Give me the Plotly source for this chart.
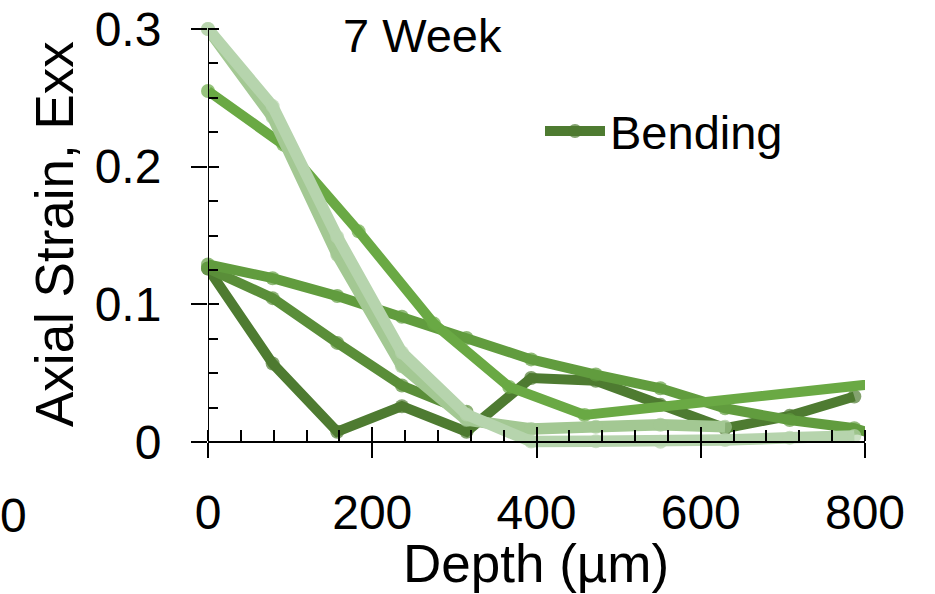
import plotly.graph_objects as go

# ---------------- data ----------------
depth_a = [0, 78.7, 157.4, 236.1, 314.8, 393.5, 472.2, 550.9, 629.6, 708.3, 787.0, 865.7]
depth_b = [0, 91.7, 183.4, 275.1, 366.8, 458.5, 917.0]

bending_1 = [0.126, 0.057, 0.0075, 0.026, 0.0075, 0.0465, 0.0445, 0.027, 0.010, 0.019, 0.033]
bending_2 = [0.126, 0.1045, 0.072, 0.041, 0.022]
bending_3 = [0.129, 0.119, 0.106, 0.091, 0.0755, 0.060, 0.049, 0.039, 0.0245, 0.016, 0.010, -0.004]
bending_4 = [0.255, 0.216, 0.153, 0.086, 0.040, 0.0196, 0.049]
bending_5 = [0.300, 0.236, 0.136, 0.055, 0.016, 0.0095, 0.011, 0.0125, 0.011]
bending_6 = [0.300, 0.244, 0.149, 0.065, 0.020, 0.0003, 0.0005, 0.0002, 0.0015, 0.003, 0.0044]

x_ticks = [0, 200, 400, 600, 800]
y_ticks = [0, 0.1, 0.2, 0.3]

# ---------------- layout geometry ----------------
W, H = 935, 594
ML, MR, MT, MB = 208, 70, 21, 144
PW, PH = W - ML - MR, H - MT - MB
Y0_PX, Y3_PX = 442, 29                       # rows of y=0 and y=0.3
PX_PER_UNIT = (Y0_PX - Y3_PX) / 0.3
Y_MIN = -((H - MB) - Y0_PX) / PX_PER_UNIT
Y_MAX = 0.3 + (Y3_PX - MT) / PX_PER_UNIT
XAX_POS = ((H - MB) - Y0_PX) / PH

def px2x(px):
    return (px - ML) / PW

def py2y(py):
    return ((H - MB) - py) / PH

FONT = "Liberation Sans, Arial, sans-serif"

series = [
    ("Bending", depth_a, bending_1, "#4e7b31", True, 10),
    ("Bending 2", depth_a, bending_2, "#5a8e39", False, 10),
    ("Bending 3", depth_a, bending_3, "#619c3e", False, 10),
    ("Bending 4", depth_b, bending_4, "#6aa944", False, 10),
    ("Bending 5", depth_a, bending_5, "#a3c893", False, 11.5),
    ("Bending 6", depth_a, bending_6, "#b6d4ad", False, 11.5),
]

fig = go.Figure()
for name, xs, ys, color, leg, lw in series:
    n = len(ys)
    xs = xs[:n]
    sizes = [14 if x <= 800 else 0 for x in xs]
    fig.add_trace(go.Scatter(
        x=xs, y=ys, name=name, mode="lines+markers",
        line=dict(color=color, width=lw),
        marker=dict(color=color, size=sizes, line=dict(width=0)),
        showlegend=leg, cliponaxis=False,
    ))

# dummy trace for overlay axes carrying the inner half of the major ticks
fig.add_trace(go.Scatter(x=[], y=[], xaxis="x2", yaxis="y2", showlegend=False))

fig.update_layout(
    width=W, height=H,
    margin=dict(l=ML, r=MR, t=MT, b=MB, autoexpand=False),
    template="none",
    paper_bgcolor="white", plot_bgcolor="white",
    font=dict(family=FONT, size=47, color="black"),
    xaxis=dict(
        range=[0, 800], anchor="free", position=XAX_POS,
        showgrid=False, zeroline=False,
        showline=True, linecolor="black", linewidth=2,
        tickmode="array", tickvals=x_ticks, ticktext=[str(v) for v in x_ticks],
        ticks="outside", ticklen=15, tickwidth=2, tickcolor="black",
        tickfont=dict(size=48, family=FONT),
        ticklabelstandoff=13, ticklabeloverflow="allow",
        minor=dict(ticks="inside", dtick=40, tick0=0, ticklen=11, tickwidth=2,
                   tickcolor="black", showgrid=False),
        automargin=False,
    ),
    yaxis=dict(
        range=[Y_MIN, Y_MAX], showgrid=False, zeroline=False, showline=False,
        tickmode="array", tickvals=y_ticks, ticktext=["0", "0.1", "0.2", "0.3"],
        ticks="outside", ticklen=16, tickwidth=2, tickcolor="black",
        tickfont=dict(size=48, family=FONT),
        ticklabelstandoff=20, ticklabeloverflow="allow",
        minor=dict(ticks="inside", dtick=0.025, tick0=0, ticklen=10, tickwidth=2,
                   tickcolor="black", showgrid=False),
        automargin=False,
    ),
    xaxis2=dict(
        range=[0, 800], overlaying="x", anchor="free", position=XAX_POS,
        showgrid=False, zeroline=False, showline=False,
        tickmode="array", tickvals=x_ticks, showticklabels=False,
        ticks="inside", ticklen=15, tickwidth=2, tickcolor="black",
        automargin=False,
    ),
    yaxis2=dict(
        range=[Y_MIN, Y_MAX], overlaying="y", anchor="free", position=0,
        showgrid=False, zeroline=False, showline=False,
        tickmode="array", tickvals=y_ticks, showticklabels=False,
        ticks="inside", ticklen=10, tickwidth=2, tickcolor="black",
        automargin=False,
    ),
    legend=dict(
        x=px2x(540), y=py2y(94), xanchor="left", yanchor="top",
        bgcolor="rgba(0,0,0,0)", borderwidth=0,
        font=dict(size=47, family=FONT), itemwidth=60,
    ),
    shapes=[dict(type="line", xref="x", yref="y", x0=0, x1=0, y0=0, y1=0.3,
                 line=dict(color="black", width=2), layer="above")],
    annotations=[
        dict(text="7 Week", x=px2x(422), y=py2y(35), xref="paper", yref="paper",
             showarrow=False, xanchor="center", yanchor="middle",
             font=dict(size=47, family=FONT)),
        dict(text="Depth (µm)", x=px2x(536), y=py2y(563), xref="paper", yref="paper",
             showarrow=False, xanchor="center", yanchor="middle",
             font=dict(size=53, family=FONT)),
        dict(text="Axial Strain, Exx", x=px2x(55), y=py2y(234), xref="paper", yref="paper",
             showarrow=False, xanchor="center", yanchor="middle", textangle=-90,
             font=dict(size=53, family=FONT)),
        dict(text="0", x=px2x(13), y=py2y(515), xref="paper", yref="paper",
             showarrow=False, xanchor="center", yanchor="middle",
             font=dict(size=48, family=FONT)),
    ],
)

# remove the browser's default body margin so the figure sits at the page origin
fig.write_html("out.html", config={"displayModeBar": False},
               post_script="document.body.style.margin='0';")
